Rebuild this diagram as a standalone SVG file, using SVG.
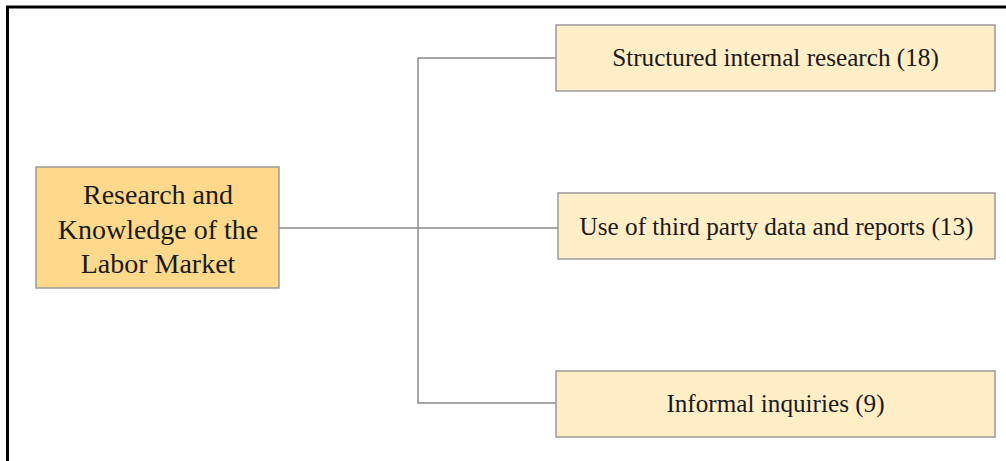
<svg xmlns="http://www.w3.org/2000/svg" width="1006" height="461" viewBox="0 0 1006 461">
<style>
.t{font-family:"Liberation Serif","Times New Roman",serif;fill:#1a1a1a;text-anchor:middle}
.c{font-size:25.2px}
.m{font-size:28px}
.child{fill:#FFEEC6;stroke:#9a9a9a;stroke-width:1.5}
.root{fill:#FFD98B;stroke:#9a9a9a;stroke-width:1.5}
.ln{fill:none;stroke:#8a8a8a;stroke-width:1.5}
</style>
<rect width="1006" height="461" fill="#fff"/>
<path d="M7.5 461 V7 H1006" fill="none" stroke="#000" stroke-width="3"/>
<g id="connectors">
<path class="ln" d="M279 228 H558"/>
<path class="ln" d="M556 58 H418 V403 H556"/>
</g>
<g id="root">
<rect class="root" x="36" y="167" width="243" height="121"/>
<text class="t m" x="158" y="204">Research and</text>
<text class="t m" x="158" y="238.5">Knowledge of the</text>
<text class="t m" x="158" y="273">Labor Market</text>
</g>
<g id="n1">
<rect class="child" x="556" y="25" width="439" height="66"/>
<text class="t c" x="775.5" y="66">Structured internal research (18)</text>
</g>
<g id="n2">
<rect class="child" x="558" y="193" width="437" height="66"/>
<text class="t c" x="776.5" y="235">Use of third party data and reports (13)</text>
</g>
<g id="n3">
<rect class="child" x="556" y="371" width="439" height="66"/>
<text class="t c" x="775.5" y="412">Informal inquiries (9)</text>
</g>
</svg>
